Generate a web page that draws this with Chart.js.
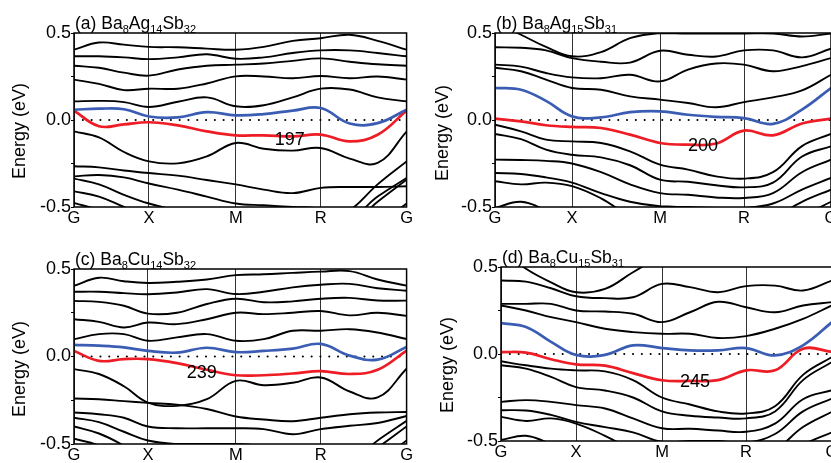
<!DOCTYPE html>
<html>
<head>
<meta charset="utf-8">
<script src="https://cdn.jsdelivr.net/npm/chart.js@4.4.0/dist/chart.umd.min.js"></script>
<style>
  html, body { margin: 0; padding: 0; background: #fff; overflow: hidden; }
  body { width: 831px; height: 463px; position: relative; }
  canvas { position: absolute; }
</style>
</head>
<body>
<canvas id="panelA" width="415" height="232" style="left:0px;top:0px"></canvas>
<canvas id="panelB" width="430" height="232" style="left:415px;top:0px"></canvas>
<canvas id="panelC" width="415" height="231" style="left:0px;top:232px"></canvas>
<canvas id="panelD" width="430" height="231" style="left:415px;top:232px"></canvas>
<script>
// k-path labels and y ticks
const kLabels = ['G', 'X', 'M', 'R', 'G'];
const yTicks = [-0.5, -0.25, 0, 0.25, 0.5];
const yLabels = ['-0.5', '', '0.0', '', '0.5'];

// (a) Ba8Ag14Sb32
const kTicksA = [0, 75, 162, 247, 333];
const kA = [0, 25, 50, 75, 104, 133, 162, 190, 219, 247, 276, 304, 333];
const a1 = [0.404, 0.445, 0.433, 0.42, 0.418, 0.41, 0.404, 0.42, 0.455, 0.47, 0.49, 0.455, 0.404];
const a2 = [0.366, 0.366, 0.36, 0.35, 0.36, 0.378, 0.352, 0.36, 0.385, 0.40, 0.40, 0.385, 0.366];
const a3 = [0.312, 0.30, 0.272, 0.255, 0.29, 0.312, 0.318, 0.325, 0.34, 0.354, 0.335, 0.32, 0.312];
const a4 = [0.232, 0.208, 0.172, 0.18, 0.18, 0.21, 0.251, 0.25, 0.24, 0.253, 0.24, 0.25, 0.232];
const a5 = [0.107, 0.11, 0.103, 0.075, 0.105, 0.13, 0.079, 0.085, 0.13, 0.18, 0.175, 0.13, 0.107];
const aBlue = [0.059, 0.065, 0.062, 0.02, 0.015, 0.045, 0.027, 0.034, 0.054, 0.069, -0.02, -0.018, 0.059];
const aRed = [0.054, -0.036, -0.025, -0.013, -0.031, -0.065, -0.088, -0.088, -0.094, -0.084, -0.123, -0.085, 0.054];
const a6 = [-0.065, -0.1, -0.184, -0.238, -0.249, -0.209, -0.132, -0.165, -0.176, -0.161, -0.222, -0.247, -0.067];
const a7 = [-0.266, -0.272, -0.29, -0.305, -0.32, -0.345, -0.37, -0.40, -0.42, -0.39, -0.385, -0.385, -0.381];
const a8 = [-0.324, -0.316, -0.33, -0.365, -0.40, -0.44, -0.48, -0.49, -0.50, -0.51, -0.56, -0.44, -0.333];
const a9 = [-0.337, -0.37, -0.43, -0.48, -0.52, -0.55, -0.56, -0.6, -0.6, -0.6, -0.6, -0.47, -0.343];
const a10 = [-0.41, -0.44, -0.50, -0.56, -0.6, -0.6, -0.6, -0.6, -0.6, -0.6, -0.52, -0.37, -0.238];
const a11 = [-0.477, -0.52, -0.6, -0.65, -0.65, -0.65, -0.65, -0.65, -0.65, -0.65, -0.65, -0.6, -0.48];

// (b) Ba8Ag15Sb31
const kTicksB = [0, 77, 165, 249, 336];
const kB = [0, 26, 51, 77, 106, 135, 165, 193, 221, 249, 278, 307, 336];
const b0 = [0.56, 0.49, 0.42, 0.366, 0.39, 0.47, 0.50, 0.497, 0.497, 0.497, 0.497, 0.48, 0.497];
const b1 = [0.418, 0.415, 0.40, 0.356, 0.335, 0.33, 0.398, 0.375, 0.365, 0.40, 0.40, 0.36, 0.41];
const b2 = [0.318, 0.307, 0.27, 0.245, 0.24, 0.26, 0.222, 0.29, 0.325, 0.318, 0.28, 0.31, 0.356];
const b3 = [0.30, 0.28, 0.232, 0.184, 0.174, 0.136, 0.117, 0.098, 0.073, 0.103, 0.13, 0.17, 0.26];
const bBlue = [0.184, 0.174, 0.11, 0.021, 0.015, 0.045, 0.05, 0.03, 0.018, 0.011, -0.022, 0.06, 0.184];
const bRed = [0.008, -0.008, -0.03, -0.04, -0.046, -0.084, -0.132, -0.142, -0.135, -0.061, -0.088, -0.02, 0.008];
const b4 = [-0.027, -0.065, -0.113, -0.123, -0.132, -0.18, -0.257, -0.285, -0.324, -0.337, -0.30, -0.15, -0.08];
const b5 = [-0.08, -0.11, -0.17, -0.20, -0.215, -0.26, -0.343, -0.355, -0.375, -0.387, -0.36, -0.21, -0.151];
const b6 = [-0.228, -0.23, -0.235, -0.25, -0.30, -0.37, -0.42, -0.43, -0.445, -0.448, -0.42, -0.30, -0.228];
const b7 = [-0.305, -0.31, -0.33, -0.36, -0.42, -0.47, -0.496, -0.50, -0.505, -0.506, -0.48, -0.40, -0.333];
const b8 = [-0.352, -0.37, -0.36, -0.38, -0.45, -0.55, -0.6, -0.6, -0.6, -0.6, -0.56, -0.47, -0.40];
const b9 = [-0.506, -0.47, -0.52, -0.6, -0.6, -0.6, -0.6, -0.6, -0.6, -0.6, -0.6, -0.55, -0.47];

// (c) Ba8Cu14Sb32
const kTicksC = [0, 74, 162, 247, 333];
const kC = [0, 25, 50, 74, 103, 133, 162, 190, 219, 247, 276, 304, 333];
const c1 = [0.404, 0.45, 0.43, 0.42, 0.427, 0.44, 0.465, 0.47, 0.478, 0.485, 0.488, 0.44, 0.405];
const c2 = [0.37, 0.37, 0.362, 0.356, 0.366, 0.385, 0.357, 0.37, 0.395, 0.41, 0.415, 0.39, 0.376];
const c3 = [0.318, 0.312, 0.29, 0.245, 0.25, 0.30, 0.33, 0.31, 0.315, 0.33, 0.335, 0.32, 0.319];
const c4 = [0.213, 0.198, 0.166, 0.194, 0.185, 0.213, 0.25, 0.242, 0.25, 0.26, 0.235, 0.25, 0.232];
const c5 = [0.099, 0.128, 0.128, 0.09, 0.109, 0.128, 0.09, 0.099, 0.147, 0.147, 0.156, 0.137, 0.10];
const cBlue = [0.067, 0.062, 0.052, 0.032, 0.022, 0.05, 0.025, 0.032, 0.045, 0.072, 0.005, -0.018, 0.055];
const cRed = [0.032, -0.025, -0.015, -0.015, -0.038, -0.076, -0.107, -0.107, -0.097, -0.084, -0.10, -0.076, 0.034];
const c6 = [-0.072, -0.1, -0.17, -0.263, -0.282, -0.244, -0.139, -0.164, -0.15, -0.12, -0.2, -0.234, -0.07];
const c7 = [-0.24, -0.244, -0.255, -0.265, -0.275, -0.30, -0.343, -0.36, -0.37, -0.35, -0.33, -0.32, -0.317];
const c8 = [-0.32, -0.33, -0.35, -0.40, -0.41, -0.41, -0.41, -0.415, -0.444, -0.415, -0.396, -0.38, -0.34];
const c9 = [-0.35, -0.375, -0.43, -0.48, -0.50, -0.50, -0.50, -0.51, -0.52, -0.55, -0.6, -0.48, -0.368];
const c10 = [-0.40, -0.44, -0.51, -0.6, -0.6, -0.6, -0.6, -0.6, -0.6, -0.6, -0.62, -0.52, -0.40];
const c11 = [-0.47, -0.51, -0.6, -0.65, -0.65, -0.65, -0.65, -0.65, -0.65, -0.65, -0.65, -0.6, -0.48];

// (d) Ba8Cu15Sb31
const kTicksD = [0, 75, 161, 245, 331];
const kD = [0, 25, 50, 75, 104, 132, 161, 189, 217, 245, 274, 302, 331];
const d0 = [0.6, 0.49, 0.412, 0.355, 0.374, 0.47, 0.56, 0.6, 0.6, 0.6, 0.6, 0.6, 0.6];
const d1 = [0.422, 0.416, 0.378, 0.332, 0.321, 0.326, 0.403, 0.384, 0.355, 0.39, 0.393, 0.365, 0.422];
const d2 = [0.288, 0.288, 0.288, 0.25, 0.244, 0.231, 0.183, 0.24, 0.30, 0.269, 0.24, 0.279, 0.298];
const d3 = [0.279, 0.25, 0.212, 0.183, 0.145, 0.126, 0.116, 0.116, 0.092, 0.103, 0.145, 0.202, 0.279];
const dBlue = [0.177, 0.155, 0.07, -0.005, -0.005, 0.05, 0.034, 0.021, 0.021, 0.034, -0.008, 0.05, 0.183];
const dRed = [0.011, 0.008, -0.03, -0.06, -0.067, -0.11, -0.151, -0.155, -0.15, -0.094, -0.094, 0.03, 0.012];
const d4 = [-0.042, -0.065, -0.084, -0.094, -0.10, -0.15, -0.25, -0.29, -0.33, -0.342, -0.30, -0.12, -0.017];
const d5 = [-0.065, -0.084, -0.132, -0.19, -0.21, -0.25, -0.33, -0.355, -0.365, -0.37, -0.33, -0.15, -0.046];
const d6 = [-0.275, -0.265, -0.275, -0.294, -0.313, -0.37, -0.427, -0.43, -0.44, -0.447, -0.40, -0.26, -0.208];
const d7 = [-0.323, -0.325, -0.35, -0.39, -0.42, -0.45, -0.504, -0.50, -0.50, -0.51, -0.46, -0.33, -0.256];
const d8 = [-0.361, -0.385, -0.37, -0.40, -0.47, -0.55, -0.6, -0.6, -0.6, -0.6, -0.55, -0.42, -0.332];
const d9 = [-0.494, -0.47, -0.52, -0.6, -0.6, -0.6, -0.6, -0.6, -0.6, -0.6, -0.6, -0.52, -0.45];

const FONT = 'Arial, "Liberation Sans", Helvetica, sans-serif';
const BLUE = '#3a5db3';
const RED = '#ee1c24';

Chart.defaults.font.family = FONT;
Chart.defaults.color = '#000';

// frame, title with subscripts, rotated y title, numeric note
const panelDeco = {
    id: 'panelDeco',
    afterDatasetsDraw(chart, args, opts) {
        const { ctx, chartArea: a, scales: { x, y } } = chart;
        ctx.save();
        ctx.strokeStyle = '#000';
        ctx.lineWidth = 1.5;
        ctx.strokeRect(a.left, a.top, a.right - a.left, a.bottom - a.top);

        ctx.fillStyle = '#000';
        ctx.textAlign = 'left';
        ctx.textBaseline = 'alphabetic';
        let px = a.left + 1;
        const base = a.top - 4.5;
        opts.title.forEach((part, i) => {
            const sub = i % 2 === 1;
            ctx.font = (sub ? '11px ' : '17.5px ') + FONT;
            ctx.fillText(part, px, base + (sub ? 4 : 0));
            px += ctx.measureText(part).width;
        });

        ctx.font = '18px ' + FONT;
        ctx.textAlign = 'center';
        ctx.textBaseline = 'middle';
        ctx.fillText(opts.note.text, x.getPixelForValue(opts.note.k), y.getPixelForValue(opts.note.e));

        ctx.translate(opts.yTitle[0], opts.yTitle[1]);
        ctx.rotate(-Math.PI / 2);
        ctx.font = '18px ' + FONT;
        ctx.fillText('Energy (eV)', 0, 0);
        ctx.restore();
    }
};

function band(k, vals, color, width, order) {
    return {
        data: k.map((kv, i) => ({ x: kv, y: vals[i] })),
        borderColor: color,
        borderWidth: width,
        pointRadius: 0,
        tension: 0.4,
        clip: 0,
        order
    };
}

function makePanel(id, p) {
    const datasets = [];
    p.black.forEach(b => datasets.push(band(p.k, b, '#000', 1.9, 1)));
    datasets.push(band(p.k, p.blue, BLUE, 2.7, 0));
    datasets.push(band(p.k, p.red, RED, 2.7, 0));
    datasets.push({
        data: [{ x: p.ticks[0], y: 0 }, { x: p.ticks[4], y: 0 }],
        borderColor: '#000',
        borderWidth: 2,
        borderDash: [0.1, 8.7],
        borderCapStyle: 'round',
        pointRadius: 0,
        order: 2
    });

    new Chart(document.getElementById(id).getContext('2d'), {
        type: 'line',
        data: { datasets },
        plugins: [panelDeco],
        options: {
            responsive: false,
            animation: false,
            events: [],
            layout: { padding: { left: 0, top: p.top, right: p.right, bottom: 0 } },
            scales: {
                x: {
                    type: 'linear',
                    min: p.ticks[0],
                    max: p.ticks[4],
                    afterBuildTicks: s => { s.ticks = p.ticks.map(v => ({ value: v })); },
                    afterFit: s => { s.height = p.xh; },
                    ticks: {
                        callback: (v, i) => kLabels[i],
                        font: { size: 16.5 },
                        color: '#000',
                        padding: 2,
                        maxRotation: 0,
                        autoSkip: false
                    },
                    grid: { color: '#333', lineWidth: 1, drawTicks: false },
                    border: { display: false }
                },
                y: {
                    min: -0.5,
                    max: 0.5,
                    afterBuildTicks: s => { s.ticks = yTicks.map(v => ({ value: v })); },
                    afterFit: s => { s.width = p.left; },
                    ticks: {
                        callback: (v, i) => yLabels[i],
                        font: { size: 18 },
                        color: '#000',
                        padding: 0
                    },
                    grid: { drawOnChartArea: false, drawTicks: true, tickLength: 3, color: '#000' },
                    border: { display: false }
                }
            },
            plugins: {
                legend: { display: false },
                tooltip: { enabled: false },
                panelDeco: { title: p.title, note: p.note, yTitle: p.yTitle }
            }
        }
    });
}

makePanel('panelA', {
    k: kA, ticks: kTicksA,
    black: [a1, a2, a3, a4, a5, a6, a7, a8, a9, a10, a11],
    blue: aBlue, red: aRed,
    left: 74, top: 33, right: 8, xh: 25,
    title: ['(a) Ba', '8', 'Ag', '14', 'Sb', '32'],
    note: { text: '197', k: 216, e: -0.115 },
    yTitle: [20, 131]
});
makePanel('panelB', {
    k: kB, ticks: kTicksB,
    black: [b0, b1, b2, b3, b4, b5, b6, b7, b8, b9],
    blue: bBlue, red: bRed,
    left: 80, top: 33, right: 14, xh: 25,
    title: ['(b) Ba', '8', 'Ag', '15', 'Sb', '31'],
    note: { text: '200', k: 208, e: -0.152 },
    yTitle: [28, 133]
});
makePanel('panelC', {
    k: kC, ticks: kTicksC,
    black: [c1, c2, c3, c4, c5, c6, c7, c8, c9, c10, c11],
    blue: cBlue, red: cRed,
    left: 74, top: 37, right: 8, xh: 19,
    title: ['(c) Ba', '8', 'Cu', '14', 'Sb', '32'],
    note: { text: '239', k: 128, e: -0.095 },
    yTitle: [20, 137]
});
makePanel('panelD', {
    k: kD, ticks: kTicksD,
    black: [d0, d1, d2, d3, d4, d5, d6, d7, d8, d9],
    blue: dBlue, red: dRed,
    left: 86, top: 35, right: 13, xh: 22,
    title: ['(d) Ba', '8', 'Cu', '15', 'Sb', '31'],
    note: { text: '245', k: 194, e: -0.16 },
    yTitle: [33, 133]
});
</script>
</body>
</html>
